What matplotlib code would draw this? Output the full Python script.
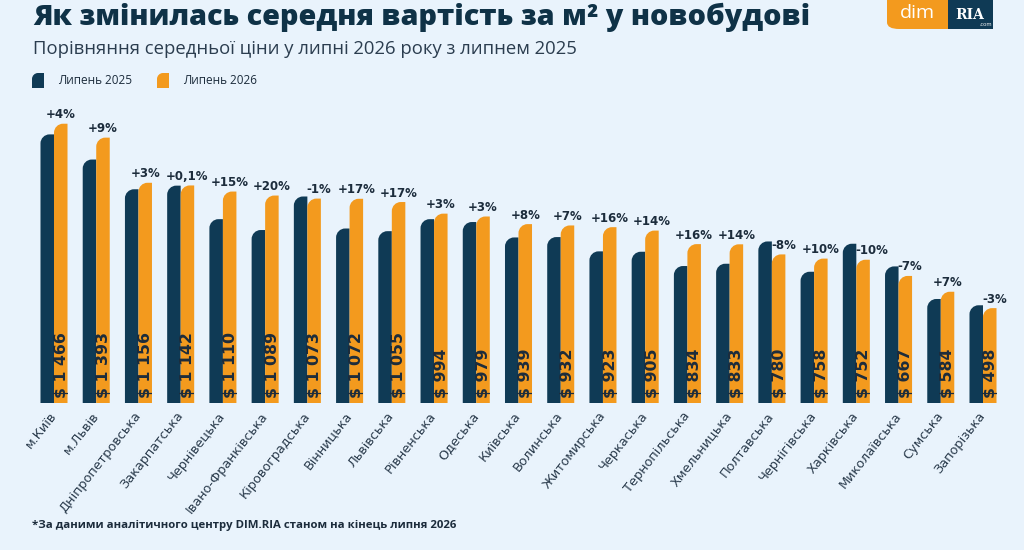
import numpy as np
import matplotlib
matplotlib.use("Agg")
import matplotlib.pyplot as plt
from matplotlib.path import Path
from matplotlib.patches import PathPatch, FancyBboxPatch, Rectangle

# Дані
regions = ["м.Київ", "м.Львів", "Дніпропетровська", "Закарпатська", "Чернівецька",
           "Івано-Франківська", "Кіровоградська", "Вінницька", "Львівська", "Рівненська",
           "Одеська", "Київська", "Волинська", "Житомирська", "Черкаська",
           "Тернопільська", "Хмельницька", "Полтавська", "Чернігівська", "Харківська",
           "Миколаївська", "Сумська", "Запорізька"]
price_2026 = [1466, 1393, 1156, 1142, 1110, 1089, 1073, 1072, 1055, 994, 979, 939,
              932, 923, 905, 834, 833, 780, 758, 752, 667, 584, 498]
# оцінка з висоти стовпчиків
price_2025 = [1410, 1278, 1122, 1141, 965, 908, 1084, 916, 902, 965, 950, 869,
              871, 796, 794, 719, 731, 848, 689, 836, 717, 546, 513]
change_labels = ["+4%", "+9%", "+3%", "+0,1%", "+15%", "+20%", "-1%", "+17%", "+17%",
                 "+3%", "+3%", "+8%", "+7%", "+16%", "+14%", "+16%", "+14%", "-8%",
                 "+10%", "-10%", "-7%", "+7%", "-3%"]

BG = "#e9f3fc"
NAVY = "#0f3a55"
ORANGE = "#f39a1e"
TXT = "#1c2c3c"

W, H = 1024, 550
fig = plt.figure(figsize=(W / 100, H / 100), dpi=100, facecolor=BG)

# осі: центр групи 0 -> 54px, 22 -> 983px, база 403px
px0, px1 = 20, 1010
step = (983 - 54) / 22
base_px, top_px = 403, 100
ax = fig.add_axes([px0 / W, 1 - base_px / H, (px1 - px0) / W, (base_px - top_px) / H])
ax.set_facecolor(BG)
ax.set_xlim((px0 - 54) / step, (px1 - 54) / step)
ymax = (base_px - top_px) / 0.1905
ax.set_ylim(0, ymax)
for s in ax.spines.values():
    s.set_visible(False)
ax.tick_params(left=False, bottom=False, labelleft=False)

bw = 0.32
r_px = 9
rx = r_px / step
ry = r_px * ymax / (base_px - top_px)
px_y = ymax / (base_px - top_px)  # одиниць даних на піксель


def corner_path(x0, y0, w, h, rx, ry):
    # прямокутник із заокругленим верхнім лівим кутом
    k = 0.5523
    ry = min(ry, h)
    verts = [(x0, y0), (x0 + w, y0), (x0 + w, y0 + h), (x0 + rx, y0 + h),
             (x0 + rx * (1 - k), y0 + h), (x0, y0 + h - ry * (1 - k)), (x0, y0 + h - ry),
             (x0, y0)]
    codes = [Path.MOVETO, Path.LINETO, Path.LINETO, Path.LINETO,
             Path.CURVE4, Path.CURVE4, Path.CURVE4, Path.CLOSEPOLY]
    return Path(verts, codes)


x = np.arange(len(regions))
for i in x:
    ax.add_patch(PathPatch(corner_path(i - bw, 0, bw, price_2025[i], rx, ry),
                           facecolor=NAVY, edgecolor="none"))
    ax.add_patch(PathPatch(corner_path(i, 0, bw, price_2026[i], rx, ry),
                           facecolor=ORANGE, edgecolor="none"))
    ax.text(i + bw / 2 + 0.01, 5 * px_y, f"$ {price_2026[i]:,}".replace(",", " "),
            rotation=90, ha="center", va="bottom", fontsize=11.3,
            fontweight="bold", family="DejaVu Sans", color=TXT)
    lab = change_labels[i]
    if lab.startswith("-"):
        ax.text(i - 0.02, price_2026[i] + 9 * px_y, lab, ha="left", va="center",
                fontsize=8.5, fontweight="bold", family="DejaVu Sans", color=TXT)
    else:
        ax.text(i + bw / 2, price_2026[i] + 9 * px_y, lab, ha="center", va="center",
                fontsize=8.5, fontweight="bold", family="DejaVu Sans", color=TXT)

ax.set_xticks(x)
ax.set_xticklabels(regions, rotation=52, ha="right", va="center",
                   rotation_mode="anchor", fontsize=9.3, family="DejaVu Sans",
                   color="#2a3b4c")
ax.tick_params(axis="x", pad=4)

# заголовки
fig.text(33 / W, 1 - 17 / H, "Як змінилась середня вартість за м² у новобудові",
         fontsize=20.7, fontweight="heavy", family="Open Sans", color="#0f3247",
         ha="left", va="center")
fig.text(33 / W, 1 - 49 / H, "Порівняння середньої ціни у липні 2026 року з липнем 2025",
         fontsize=13.3, family="Open Sans", color="#2b3d4f", ha="left", va="center")

# легенда
for lx, col, lab in [(32, NAVY, "Липень 2025"), (157, ORANGE, "Липень 2026")]:
    p = corner_path(lx / W, 1 - 88 / H, 12 / W, 15 / H, 6 / W, 6 / H)
    fig.patches.append(PathPatch(p, transform=fig.transFigure,
                                 facecolor=col, edgecolor="none"))
    fig.text((lx + 26) / W, 1 - 80 / H, lab, fontsize=8.5, family="Open Sans",
             color=TXT, ha="left", va="center")

# логотип
fig.patches.append(FancyBboxPatch((887 / W, 1 - 29 / H), 61 / W, 29 / H,
                                  boxstyle="round,pad=0,rounding_size=0.012",
                                  transform=fig.transFigure,
                                  facecolor=ORANGE, edgecolor="none"))
fig.patches.append(Rectangle((887 / W, 1 - 15 / H), 61 / W, 15 / H,
                             transform=fig.transFigure, facecolor=ORANGE, edgecolor="none"))
fig.patches.append(Rectangle((920 / W, 1 - 29 / H), 28 / W, 29 / H,
                             transform=fig.transFigure, facecolor=ORANGE, edgecolor="none"))
fig.patches.append(Rectangle((948 / W, 1 - 29 / H), 45 / W, 29 / H,
                             transform=fig.transFigure, facecolor=NAVY, edgecolor="none"))
fig.text(917 / W, 1 - 13 / H, "dim", fontsize=14, family="Open Sans", color="white",
         ha="center", va="center")
fig.text(970 / W, 1 - 15 / H, "RIA", fontsize=10, fontweight="bold", family="DejaVu Serif",
         color="white", ha="center", va="center")
fig.text(986 / W, 1 - 25 / H, ".com", fontsize=4, family="Open Sans", color="white",
         ha="center", va="center")

# примітка
fig.text(32 / W, 1 - 525 / H,
         "*За даними аналітичного центру DIM.RIA станом на кінець липня 2026",
         fontsize=8.2, fontweight="bold", family="Open Sans", color=TXT,
         ha="left", va="center")

fig.savefig("out.png", dpi=100, facecolor=BG)
